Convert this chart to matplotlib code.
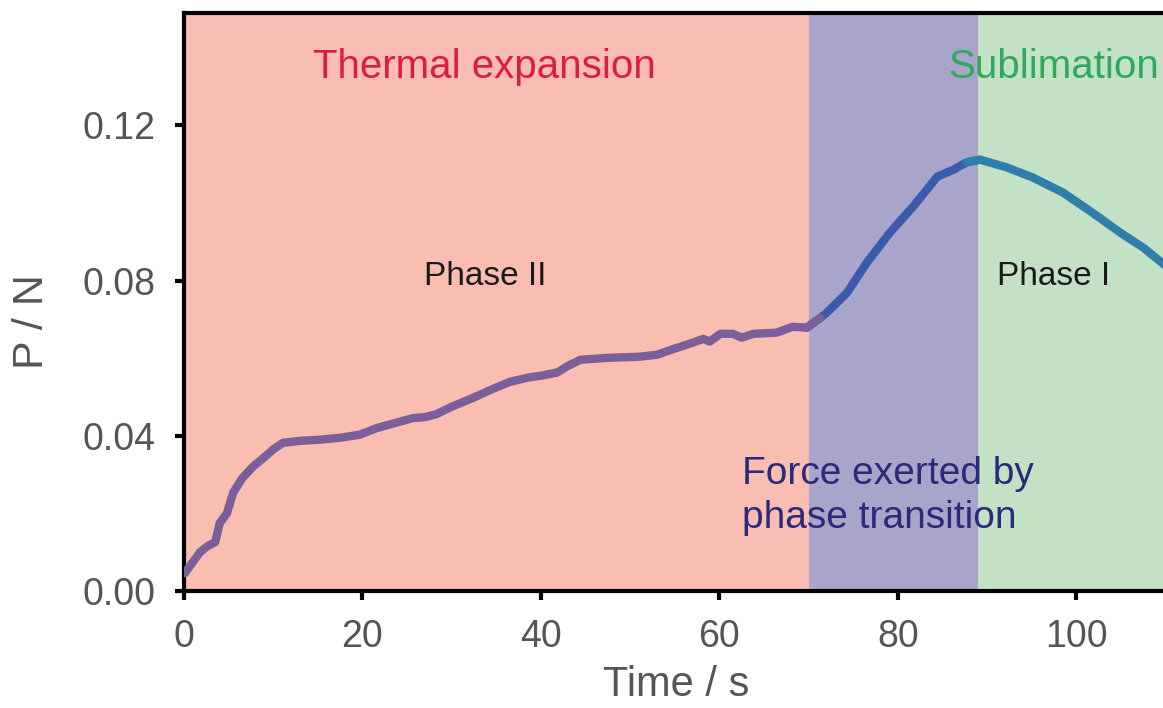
import numpy as np
import matplotlib
matplotlib.use("Agg")
import matplotlib.pyplot as plt

plt.rcParams['font.family'] = ['Liberation Sans', 'DejaVu Sans']

# ---- data ----
time_s = [0.1, 1.0, 1.8, 2.6, 3.5, 4.0, 4.8, 5.5, 6.5, 7.7, 9.0, 10.0, 11.1, 13.0,
          15.2, 17.5, 19.7, 21.6, 23.5, 25.7, 27.0, 28.3, 30.0, 32.4, 34.5, 36.5,
          38.5, 40.0, 41.8, 43.0, 44.4, 47.4, 51.1, 53.0, 55.0, 57.0, 58.2, 58.9,
          60.1, 61.5, 62.5, 63.8, 66.4, 68.2, 69.8, 71.3, 72.0, 74.3, 76.5, 79.1,
          81.7, 84.4, 86.2, 87.7, 89.2, 92.2, 95.1, 98.5, 101.8, 104.9, 107.5, 109.9]
force_N = [0.0046, 0.0075, 0.0100, 0.0115, 0.0126, 0.0175, 0.0200, 0.0253, 0.0290,
           0.0320, 0.0345, 0.0365, 0.0382, 0.0387, 0.0390, 0.0395, 0.0403, 0.0420,
           0.0432, 0.0446, 0.0448, 0.0456, 0.0475, 0.0498, 0.0520, 0.0539, 0.0550,
           0.0555, 0.0563, 0.0580, 0.0596, 0.0601, 0.0604, 0.0609, 0.0625, 0.0640,
           0.0650, 0.0643, 0.0663, 0.0663, 0.0653, 0.0663, 0.0666, 0.0681, 0.0679,
           0.0704, 0.0717, 0.0769, 0.0846, 0.0924, 0.0991, 0.1068, 0.1086, 0.1105,
           0.1112, 0.1092, 0.1066, 0.1027, 0.0975, 0.0924, 0.0885, 0.0840]

region_edges = [0, 70, 89, 112]
region_colors = ['#F9BDB2', '#A9A5CA', '#C3E2C5']
line_colors = ['#7B5F9A', '#3A5AAB', '#2F7FAA']

x_ticks = [0, 20, 40, 60, 80, 100]
y_ticks = [0.00, 0.04, 0.08, 0.12]
y_tick_labels = ['0.00', '0.04', '0.08', '0.12']

# ---- figure ----
fig = plt.figure(figsize=(11.63, 7.08), dpi=100)
ax = fig.add_axes([184 / 1163, 1 - 591 / 708, 1 - 184 / 1163, (591 - 13) / 708])

for i in range(3):
    ax.axvspan(region_edges[i], region_edges[i + 1], color=region_colors[i], lw=0, zorder=0)

t = np.array(time_s)
f = np.array(force_N)
for i in range(3):
    lo = np.searchsorted(t, region_edges[i])
    hi = np.searchsorted(t, region_edges[i + 1])
    lo = max(lo - 1, 0)
    hi = min(hi + 1, len(t))
    ax.plot(t[lo:hi], f[lo:hi], color=line_colors[i], lw=6,
            solid_capstyle='round', solid_joinstyle='round', zorder=3 + (i == 0))

ax.set_xlim(0, 109.7)
ax.set_ylim(0, 0.149)
ax.set_xticks(x_ticks)
ax.set_yticks(y_ticks)
ax.set_yticklabels(y_tick_labels)

for s in ['left', 'bottom', 'top']:
    ax.spines[s].set_linewidth(3)
    ax.spines[s].set_color('black')
ax.spines['right'].set_visible(False)
ax.tick_params(axis='both', direction='out', length=6.5, width=3, color='black',
               labelsize=27, labelcolor='#555555', pad=14)

ax.set_xlabel('Time / s', fontsize=30, color='#555555', va='center')
ax.set_ylabel('P / N', fontsize=31, color='#555555', va='center')
ax.xaxis.set_label_coords((676 - 184) / (1163 - 184), -(685 - 591) / 578, transform=ax.transAxes)
ax.yaxis.set_label_coords(-(184 - 32) / (1163 - 184), (591 - 322) / 578, transform=ax.transAxes)

ax.text(33.7, 0.135, 'Thermal expansion', color='#DC1E3C', fontsize=29,
        ha='center', va='center', zorder=5)
ax.text(97.4, 0.135, 'Sublimation', color='#2EAA5A', fontsize=29,
        ha='center', va='center', zorder=5)
ax.text(33.7, 0.081, 'Phase II', color='#1A1A1A', fontsize=24,
        ha='center', va='center', zorder=5)
ax.text(97.4, 0.081, 'Phase I', color='#1A1A1A', fontsize=24,
        ha='center', va='center', zorder=5)
ax.text(62.5, 0.0245, 'Force exerted by\nphase transition', color='#2A2A7A',
        fontsize=28, ha='left', va='center', linespacing=1.27, zorder=5)

fig.savefig('out.png', dpi=100)
